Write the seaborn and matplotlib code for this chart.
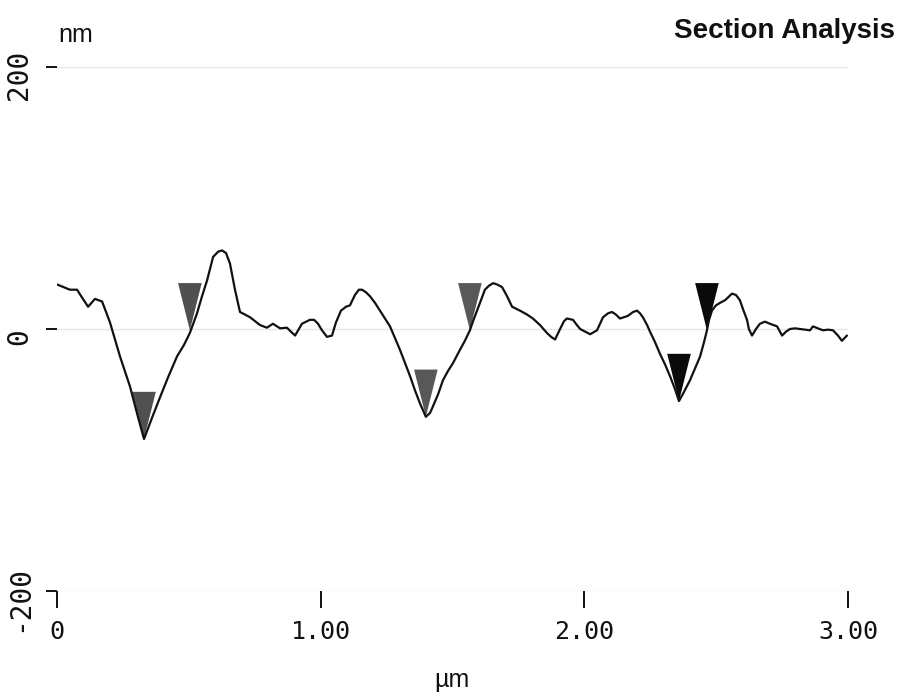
import numpy as np
import pandas as pd
import matplotlib
matplotlib.use("Agg")
import matplotlib.pyplot as plt
from matplotlib.transforms import ScaledTranslation
from matplotlib.path import Path
import seaborn as sns

# ---- data ----
x_um = [0.000, 0.049, 0.076, 0.095, 0.118, 0.144, 0.171, 0.201, 0.239, 0.277,
        0.303, 0.330, 0.360, 0.391, 0.421, 0.455, 0.482, 0.504, 0.531, 0.550,
        0.569, 0.592, 0.611, 0.626, 0.641, 0.656, 0.675, 0.694, 0.713, 0.732,
        0.751, 0.770, 0.796, 0.819, 0.846, 0.872, 0.887, 0.903, 0.929, 0.959,
        0.975, 0.990, 1.005, 1.024, 1.043, 1.058, 1.077, 1.096, 1.111, 1.130,
        1.145, 1.157, 1.172, 1.187, 1.206, 1.225, 1.244, 1.263, 1.282, 1.301,
        1.320, 1.339, 1.358, 1.377, 1.399, 1.415, 1.426, 1.445, 1.464, 1.483,
        1.502, 1.528, 1.547, 1.566, 1.578, 1.593, 1.608, 1.623, 1.638, 1.654,
        1.669, 1.688, 1.707, 1.726, 1.756, 1.783, 1.805, 1.832, 1.858, 1.874,
        1.889, 1.908, 1.923, 1.934, 1.957, 1.972, 1.984, 2.003, 2.022, 2.048,
        2.071, 2.090, 2.105, 2.120, 2.135, 2.150, 2.165, 2.185, 2.200, 2.211,
        2.222, 2.238, 2.249, 2.268, 2.287, 2.306, 2.325, 2.344, 2.359, 2.378,
        2.401, 2.420, 2.439, 2.454, 2.465, 2.473, 2.484, 2.499, 2.515, 2.534,
        2.560, 2.575, 2.590, 2.602, 2.617, 2.624, 2.636, 2.651, 2.666, 2.685,
        2.704, 2.731, 2.742, 2.750, 2.765, 2.780, 2.799, 2.818, 2.837, 2.856,
        2.867, 2.886, 2.905, 2.924, 2.943, 2.962, 2.977, 2.996]
height_nm = [34, 30, 30, 24, 17, 23, 21, 5, -21, -44,
             -64, -84, -68, -52, -37, -21, -12, -3, 12, 25,
             37, 55, 59, 60, 58, 50, 30, 13, 11, 9,
             6, 3, 1, 4, 0.5, 1, -2, -5, 4, 7,
             7, 4, -1, -6, -5, 5, 14, 17, 18, 26,
             30, 30, 28, 25, 20, 14, 8, 2, -7, -16,
             -26, -36, -47, -57, -67, -64, -59, -50, -39, -32,
             -26, -16, -9, -1, 6, 14, 22, 30, 33, 35,
             34, 32, 25, 17, 14, 11, 8, 3, -3, -6,
             -8, 0, 6, 8, 7, 3, 0, -2, -4, -1,
             9, 12, 13, 11, 8, 9, 10, 13, 14, 12,
             9, 3, -2, -10, -19, -27, -36, -46, -55, -48,
             -39, -30, -21, -10, -1, 7, 14, 18, 20, 22,
             27, 26, 22, 15, 7, 0, -5, 0, 4, 5.6,
             4, 2, -2, -5, -2, 0, 0.5, 0, -0.5, -1,
             2, 0.5, -1, -0.5, -1, -5, -9, -5]

cursor_x = [0.330, 0.504, 1.399, 1.566, 2.359, 2.465]
cursor_y = [-84, -1, -67, -1, -55, -1]
cursor_pair = ["A", "A", "B", "B", "C", "C"]
pair_colors = {"A": "#505050", "B": "#585858", "C": "#0a0a0a"}

x_ticks = [0, 1, 2, 3]
x_ticklabels = ["0", "1.00", "2.00", "3.00"]
y_ticks = [-200, 0, 200]
y_ticklabels = ["-200", "0", "200"]

profile = pd.DataFrame({"x": x_um, "y": height_nm})
cursors = pd.DataFrame({"x": cursor_x, "y": cursor_y, "pair": cursor_pair})

sns.set_theme(style="white")
W, H = 900, 697
fig = plt.figure(figsize=(W / 100, H / 100), dpi=100)
ax = fig.add_axes([57 / W, 1 - 591 / H, (848 - 57) / W, (591 - 67) / H])

# faint reference lines
for yv in y_ticks:
    ax.axhline(yv, color="#e6e6e6", lw=1.0, zorder=0)

# inverted triangle cursor marker with its tip at the data point
tri = Path([(-0.25, 1.0), (0.25, 1.0), (0.0, 0.0), (-0.25, 1.0)],
           [Path.MOVETO, Path.LINETO, Path.LINETO, Path.CLOSEPOLY])
sns.scatterplot(data=cursors, x="x", y="y", hue="pair", palette=pair_colors,
                marker=tri, s=68 ** 2, linewidth=0, legend=False, ax=ax, zorder=2)

sns.lineplot(data=profile, x="x", y="y", color="#111111", lw=1.6, ax=ax,
             zorder=3, sort=False)

ax.set_xlim(0, 3)
ax.set_ylim(-200, 200)
for s in ax.spines.values():
    s.set_visible(False)
ax.set_xlabel("")
ax.set_ylabel("")

mono = "DejaVu Sans Mono"
ax.set_xticks(x_ticks)
ax.set_xticklabels(x_ticklabels, family=mono, fontsize=18, color="#111111")
ax.set_yticks(y_ticks)
ax.set_yticklabels(y_ticklabels, family=mono, fontsize=20, color="#111111",
                   rotation=90, va="center")
ax.tick_params(axis="x", direction="out", length=12, width=1.4, color="#111111",
               pad=9, bottom=True)
ax.tick_params(axis="y", direction="out", length=8, width=1.4, color="#111111",
               pad=9, left=True)
for lab in ax.get_yticklabels():
    lab.set_transform(lab.get_transform() +
                      ScaledTranslation(0, -8 / 100, fig.dpi_scale_trans))

sans = ["Liberation Sans Narrow", "Liberation Sans", "DejaVu Sans"]
fig.text(58 / W, 1 - 42 / H, "nm", ha="left", va="baseline",
         family=sans, fontsize=18, color="#111111")
fig.text(452 / W, 1 - 687 / H, "µm", ha="center", va="baseline",
         family=sans, fontsize=18, color="#111111")
fig.text(895 / W, 1 - 38 / H, "Section Analysis", ha="right", va="baseline",
         family=sans, fontsize=20, weight="bold", color="#111111")

fig.savefig("out.png", dpi=100, facecolor="white")
